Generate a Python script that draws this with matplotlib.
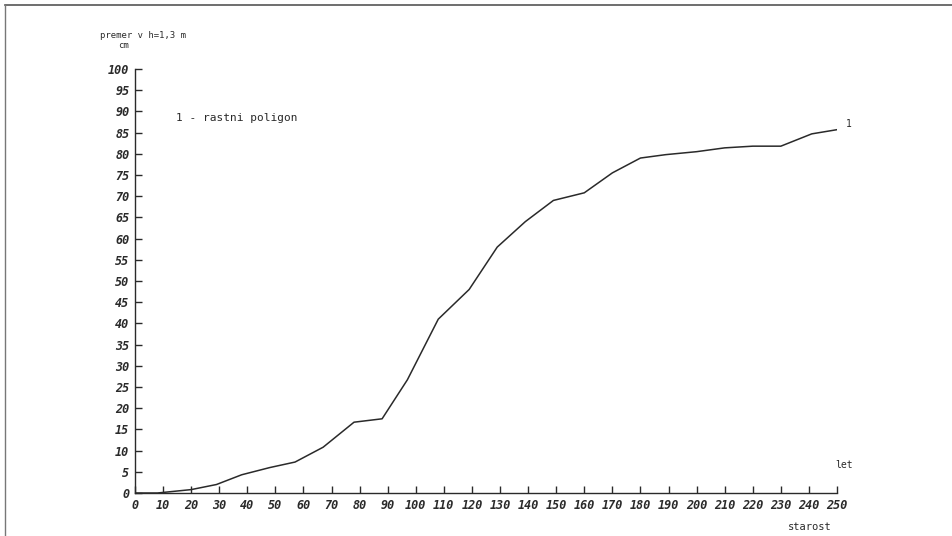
# -*- coding: utf-8 -*-
# Rastni poligon: premer v prsni visini (h=1,3 m) glede na starost drevesa
import matplotlib
matplotlib.use("Agg")
import matplotlib.pyplot as plt
from matplotlib.lines import Line2D

# starost (let) in premer (cm)
starost = [0, 8, 20, 29, 38, 48, 57, 67, 78, 88, 97, 108, 119, 129, 139,
           149, 160, 170, 180, 189, 200, 210, 220, 230, 241, 251]
premer = [0, 0, 0.8, 2.0, 4.3, 6.0, 7.3, 10.8, 16.7, 17.5, 26.7, 41.0, 48.0,
          58.0, 64.0, 69.0, 70.8, 75.5, 79.0, 79.8, 80.5, 81.4, 81.8, 81.8,
          84.7, 85.8]

x_ticks = list(range(0, 251, 10))
y_ticks = list(range(0, 101, 5))

MONO = "DejaVu Sans Mono"
INK = "#2a2a2a"

fig = plt.figure(figsize=(9.52, 5.36), dpi=100)
ax = fig.add_axes([135 / 952, 1 - 493 / 536, 702 / 952, 424 / 536])

ax.plot(starost, premer, color=INK, linewidth=1.1)

ax.set_xlim(0, 250)
ax.set_ylim(0, 100)
ax.set_xticks(x_ticks)
ax.set_yticks(y_ticks)
ax.set_xticklabels([str(v) for v in x_ticks], family=MONO, style="oblique",
                   weight="bold", fontsize=8.5, color=INK)
ax.set_yticklabels([str(v) for v in y_ticks], family=MONO, style="oblique",
                   weight="bold", fontsize=8.5, color=INK)
ax.tick_params(axis="both", direction="in", length=5, width=1, color=INK, pad=4)

for side in ("top", "right"):
    ax.spines[side].set_visible(False)
for side in ("left", "bottom"):
    ax.spines[side].set_color(INK)
    ax.spines[side].set_linewidth(1)

# oznake osi in legenda
fig.text(100 / 952, 1 - 35 / 536, "premer v h=1,3 m", family=MONO,
         fontsize=6.4, color=INK, va="center")
fig.text(118 / 952, 1 - 45 / 536, "cm", family=MONO, fontsize=6.4,
         color=INK, va="center")
ax.text(14.5, 88.5, "1 - rastni poligon", family=MONO, fontsize=8, color=INK,
        va="center")
ax.text(starost[-1] + 2, premer[-1] + 1.2, "1", family=MONO, fontsize=7,
        color=INK, va="center")
fig.text(835 / 952, 1 - 465 / 536, "let", family=MONO, fontsize=7,
         color=INK, va="center")
fig.text(788 / 952, 1 - 527 / 536, "starost", family=MONO, fontsize=7.5,
         color=INK, va="center")

# okvir strani
fig.add_artist(Line2D([5 / 952, 1], [1 - 5 / 536, 1 - 5 / 536],
                      transform=fig.transFigure, color="#555555", linewidth=1.2))
fig.add_artist(Line2D([5 / 952, 5 / 952], [0, 1 - 5 / 536],
                      transform=fig.transFigure, color="#777777", linewidth=1))

fig.savefig("out.png", dpi=100)
